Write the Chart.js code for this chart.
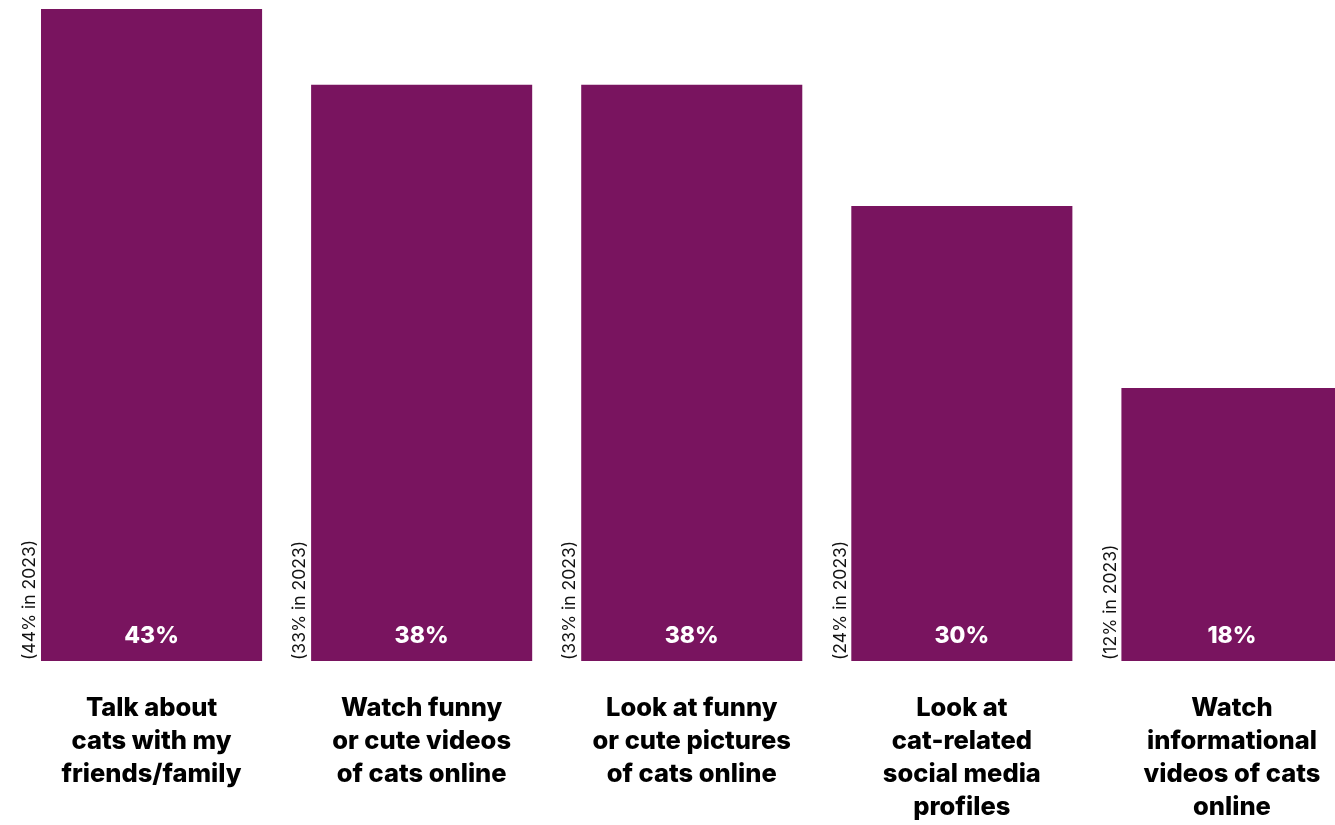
<!DOCTYPE html>
<html>
<head>
<meta charset="utf-8">
<script src="https://cdn.jsdelivr.net/npm/chart.js@4/dist/chart.umd.min.js"></script>
<style>
  html, body { margin: 0; padding: 0; background: #fff; overflow: hidden; }
  #wrap { width: 1335px; height: 825px; overflow: hidden; }
</style>
</head>
<body>
<div id="wrap"><canvas id="cats-chart" width="1367" height="855"></canvas></div>
<script>
// Atividades ligadas a gatos (2024, % dos inquiridos)
const categories = [
    ['Talk about', 'cats with my', 'friends/family'],
    ['Watch funny', 'or cute videos', 'of cats online'],
    ['Look at funny', 'or cute pictures', 'of cats online'],
    ['Look at', 'cat-related', 'social media', 'profiles'],
    ['Watch', 'informational', 'videos of cats', 'online']
];
const values2024 = [43, 38, 38, 30, 18];
const values2023 = [44, 33, 33, 24, 12];

const barColor = '#79145f';
const fontFamily = 'Inter, "Liberation Sans", Arial, sans-serif';

// Etiquetas: valor dentro da barra e valor de 2023 na vertical, à esquerda
const barLabels = {
    id: 'barLabels',
    afterDatasetsDraw(chart) {
        const ctx = chart.ctx;
        const meta = chart.getDatasetMeta(0);
        const yScale = chart.scales.y;
        const base = yScale.getPixelForValue(0);
        ctx.save();
        meta.data.forEach((bar, i) => {
            // valor atual
            ctx.fillStyle = '#fff';
            ctx.font = '800 23px ' + fontFamily;
            ctx.textAlign = 'center';
            ctx.textBaseline = 'middle';
            ctx.fillText(values2024[i] + '%', bar.x, base - 25);

            // valor de 2023, rodado
            const left = bar.x - bar.width / 2;
            ctx.save();
            ctx.translate(left - 11, base - 1);
            ctx.rotate(-Math.PI / 2);
            ctx.fillStyle = '#111';
            ctx.font = '17.5px ' + fontFamily;
            ctx.textAlign = 'left';
            ctx.textBaseline = 'middle';
            ctx.fillText('(' + values2023[i] + '% in 2023)', 0, 0);
            ctx.restore();
        });
        ctx.restore();
    }
};

const ctx = document.getElementById('cats-chart').getContext('2d');
const catsChart = new Chart(ctx, {
    type: 'bar',
    data: {
        labels: categories,
        datasets: [{
            data: values2024,
            backgroundColor: barColor,
            borderWidth: 0,
            categoryPercentage: 1,
            barPercentage: 0.8185
        }]
    },
    options: {
        responsive: false,
        animation: false,
        devicePixelRatio: 1,
        layout: {
            padding: { top: 9, left: 16.5, right: 0, bottom: 0 }
        },
        plugins: {
            legend: { display: false },
            tooltip: { enabled: false }
        },
        scales: {
            x: {
                grid: { display: false, drawTicks: false },
                border: { display: false },
                ticks: {
                    color: '#000',
                    padding: 31,
                    maxRotation: 0,
                    autoSkip: false,
                    font: { family: fontFamily, size: 25.5, weight: 800, lineHeight: 1.294 }
                }
            },
            y: {
                display: false,
                min: 0,
                max: 43
            }
        }
    },
    plugins: [barLabels]
});
</script>
</body>
</html>
